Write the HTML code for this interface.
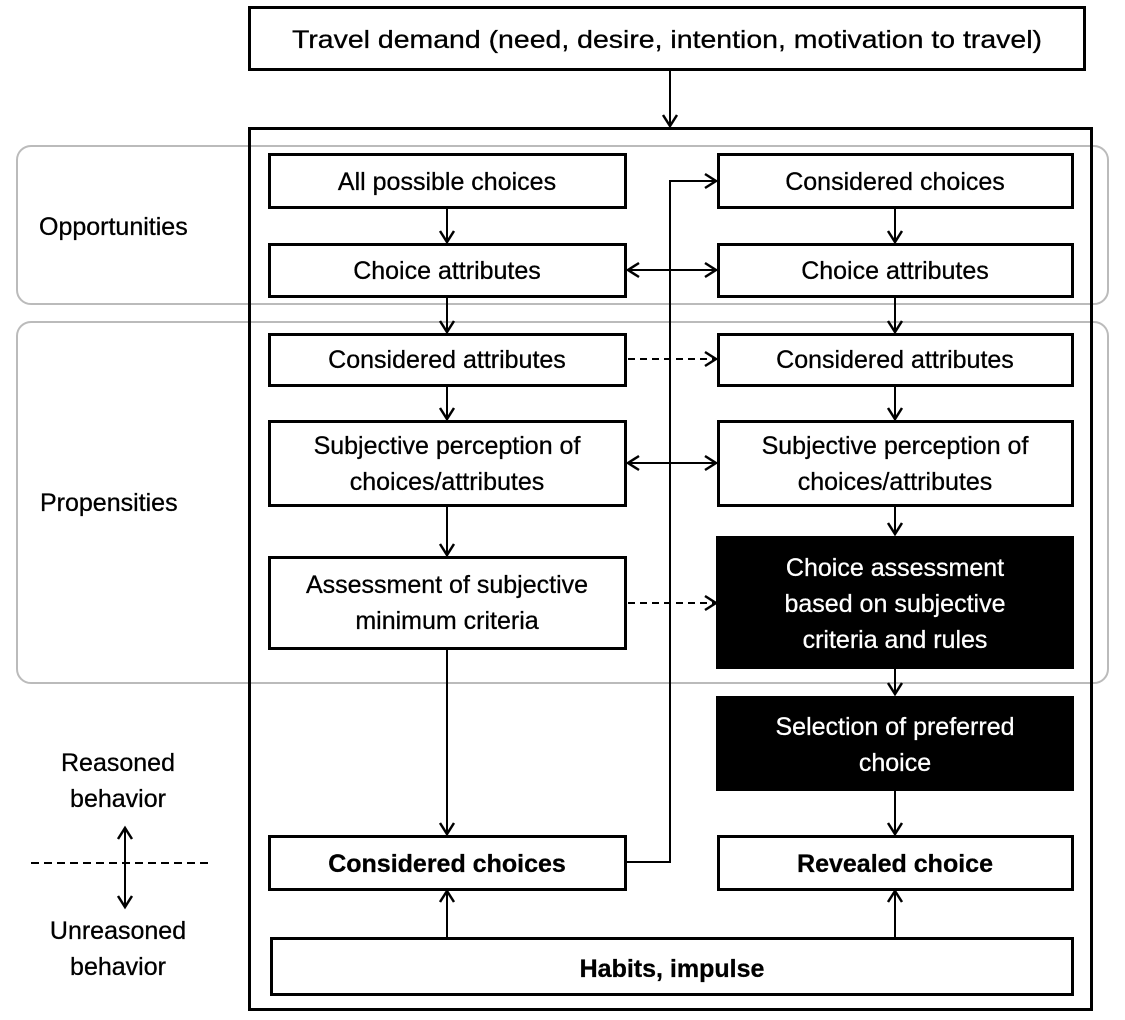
<!DOCTYPE html>
<html><head><style>body{margin:0;background:#fff}svg{display:block}text{font-family:"Liberation Sans",sans-serif;font-size:25px;fill:#000;stroke:#000;stroke-width:0.3}</style></head>
<body>
<svg width="1125" height="1020" xmlns="http://www.w3.org/2000/svg">
<defs>
<marker id="a" markerWidth="18" markerHeight="18" refX="13" refY="9" orient="auto-start-reverse" markerUnits="userSpaceOnUse"><path d="M2,2 L13,9 L2,16" fill="none" stroke="#000" stroke-width="2.5"/></marker>
</defs>
<rect x="17" y="146" width="1091" height="158" rx="14" fill="none" stroke="#bbb" stroke-width="2"/>
<rect x="17" y="322" width="1091" height="361" rx="14" fill="none" stroke="#bbb" stroke-width="2"/>
<rect x="249.5" y="7.5" width="835" height="62" fill="#fff" stroke="#000" stroke-width="3"/>
<text x="667" y="48" text-anchor="middle" textLength="750" lengthAdjust="spacingAndGlyphs">Travel demand (need, desire, intention, motivation to travel)</text>
<line x1="670" y1="70" x2="670" y2="126" stroke="#000" stroke-width="2" marker-end="url(#a)"/>
<rect x="249.5" y="128.5" width="842" height="881" fill="none" stroke="#000" stroke-width="3"/>
<g fill="#fff" stroke="#000" stroke-width="3">
<rect x="269.5" y="154.5" width="356" height="53"/>
<rect x="269.5" y="244.5" width="356" height="52"/>
<rect x="269.5" y="334.5" width="356" height="51"/>
<rect x="269.5" y="421.5" width="356" height="84"/>
<rect x="269.5" y="557.5" width="356" height="91"/>
<rect x="269.5" y="836.5" width="356" height="53"/>
<rect x="718.5" y="154.5" width="354" height="53"/>
<rect x="718.5" y="244.5" width="354" height="52"/>
<rect x="718.5" y="334.5" width="354" height="51"/>
<rect x="718.5" y="421.5" width="354" height="84"/>
<rect x="718.5" y="836.5" width="354" height="53"/>
<rect x="271.5" y="938.5" width="801" height="56"/>
</g>
<rect x="716" y="536" width="358" height="133" fill="#000"/>
<rect x="716" y="696" width="358" height="95" fill="#000"/>
<g text-anchor="middle">
<text x="447" y="190">All possible choices</text>
<text x="447" y="279">Choice attributes</text>
<text x="447" y="368">Considered attributes</text>
<text x="447" y="454">Subjective perception of</text>
<text x="447" y="490">choices/attributes</text>
<text x="447" y="593">Assessment of subjective</text>
<text x="447" y="629">minimum criteria</text>
<text x="447" y="872" font-weight="bold">Considered choices</text>
<text x="895" y="190">Considered choices</text>
<text x="895" y="279">Choice attributes</text>
<text x="895" y="368">Considered attributes</text>
<text x="895" y="454">Subjective perception of</text>
<text x="895" y="490">choices/attributes</text>
<text x="895" y="576" style="fill:#fff;stroke:#fff">Choice assessment</text>
<text x="895" y="612" style="fill:#fff;stroke:#fff">based on subjective</text>
<text x="895" y="648" style="fill:#fff;stroke:#fff">criteria and rules</text>
<text x="895" y="735" style="fill:#fff;stroke:#fff">Selection of preferred</text>
<text x="895" y="771" style="fill:#fff;stroke:#fff">choice</text>
<text x="895" y="872" font-weight="bold">Revealed choice</text>
<text x="672" y="977" font-weight="bold">Habits, impulse</text>
<text x="118" y="771">Reasoned</text>
<text x="118" y="807">behavior</text>
<text x="118" y="939">Unreasoned</text>
<text x="118" y="975">behavior</text>
</g>
<text x="39" y="235">Opportunities</text>
<text x="40" y="511">Propensities</text>
<g stroke="#000" stroke-width="2" fill="none">
<line x1="447" y1="208" x2="447" y2="242" marker-end="url(#a)"/>
<line x1="447" y1="297" x2="447" y2="332" marker-end="url(#a)"/>
<line x1="447" y1="386" x2="447" y2="419" marker-end="url(#a)"/>
<line x1="447" y1="506" x2="447" y2="555" marker-end="url(#a)"/>
<line x1="447" y1="649" x2="447" y2="834" marker-end="url(#a)"/>
<line x1="895" y1="208" x2="895" y2="242" marker-end="url(#a)"/>
<line x1="895" y1="297" x2="895" y2="332" marker-end="url(#a)"/>
<line x1="895" y1="386" x2="895" y2="419" marker-end="url(#a)"/>
<line x1="895" y1="506" x2="895" y2="534" marker-end="url(#a)"/>
<line x1="895" y1="669" x2="895" y2="694" marker-end="url(#a)"/>
<line x1="895" y1="791" x2="895" y2="834" marker-end="url(#a)"/>
<line x1="447" y1="937" x2="447" y2="891" marker-end="url(#a)"/>
<line x1="895" y1="937" x2="895" y2="891" marker-end="url(#a)"/>
<polyline points="627,862 670,862 670,181 716,181" marker-end="url(#a)"/>
<line x1="628" y1="270" x2="716" y2="270" marker-start="url(#a)" marker-end="url(#a)"/>
<line x1="628" y1="463" x2="716" y2="463" marker-start="url(#a)" marker-end="url(#a)"/>
<line x1="628" y1="359" x2="716" y2="359" stroke-dasharray="7,5" marker-end="url(#a)"/>
<line x1="628" y1="603" x2="716" y2="603" stroke-dasharray="7,5" marker-end="url(#a)"/>
<line x1="31" y1="863" x2="213" y2="863" stroke-dasharray="8,5"/>
<line x1="125" y1="828" x2="125" y2="907" marker-start="url(#a)" marker-end="url(#a)"/>
</g>
</svg>
</body></html>
